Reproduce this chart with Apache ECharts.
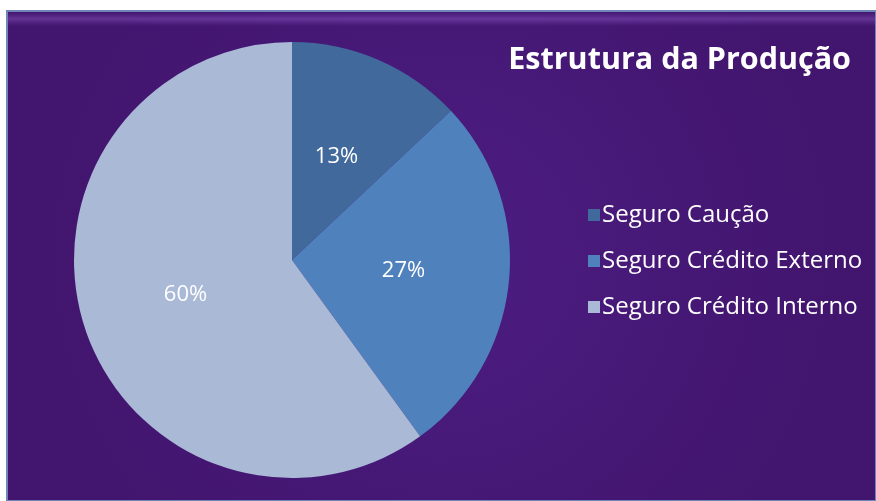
<!DOCTYPE html>
<html>
<head>
<meta charset="utf-8">
<style>
html,body{margin:0;padding:0;background:#ffffff;}
#chart{width:876px;height:501px;}
</style>
<script src="https://cdn.jsdelivr.net/npm/echarts@6/dist/echarts.min.js"></script>
</head>
<body>
<div id="chart"></div>
<script>
var categories = ['Seguro Caução', 'Seguro Crédito Externo', 'Seguro Crédito Interno'];
var values = [13, 27, 60];
var colors = ['#41699b', '#4f81bd', '#a9b9d6'];
var titleText = 'Estrutura da Produção';

var chart = echarts.init(document.getElementById('chart'), null, {renderer: 'canvas'});
var data = categories.map(function (c, i) {
  return {name: c, value: values[i], itemStyle: {color: colors[i]}};
});
chart.setOption({
  backgroundColor: '#ffffff',
  animation: false,
  graphic: [
    {
      type: 'rect', z: -10, silent: true,
      shape: {x: 7, y: 11, width: 869, height: 490},
      style: {
        fill: {
          type: 'radial', x: 0.5, y: 0.5, r: 0.8,
          colorStops: [{offset: 0, color: '#4c1d82'}, {offset: 1, color: '#42156e'}]
        },
        stroke: '#6f86b8', lineWidth: 2
      }
    },
    {
      type: 'rect', z: -9, silent: true,
      shape: {x: 8, y: 12, width: 868, height: 14},
      style: {
        fill: {
          type: 'linear', x: 0, y: 0, x2: 0, y2: 1,
          colorStops: [{offset: 0, color: 'rgba(150,100,210,0.0)'}, {offset: 0.5, color: 'rgba(160,110,220,0.35)'}, {offset: 1, color: 'rgba(150,100,210,0.0)'}]
        }
      }
    }
  ],
  title: {
    text: titleText,
    right: 20, top: 40,
    textStyle: {color: '#ffffff', fontSize: 30.5, fontWeight: 'bold', fontFamily: 'Open Sans'}
  },
  legend: {
    orient: 'vertical',
    left: 583, top: 198,
    itemWidth: 12, itemHeight: 12, itemGap: 22,
    icon: 'rect',
    data: categories,
    textStyle: {color: '#ffffff', fontSize: 24, fontFamily: 'Open Sans', padding: [0, 0, 0, -3]}
  },
  series: [{
    type: 'pie',
    center: [292, 260],
    radius: [0, 218],
    startAngle: 90,
    clockwise: true,
    data: data,
    label: {
      show: true, position: 'inside',
      formatter: '{c}%',
      color: '#ffffff', fontSize: 22, fontFamily: 'Open Sans'
    },
    labelLine: {show: false},
    itemStyle: {borderWidth: 0},
    emphasis: {disabled: true}
  }]
});
</script>
</body>
</html>
